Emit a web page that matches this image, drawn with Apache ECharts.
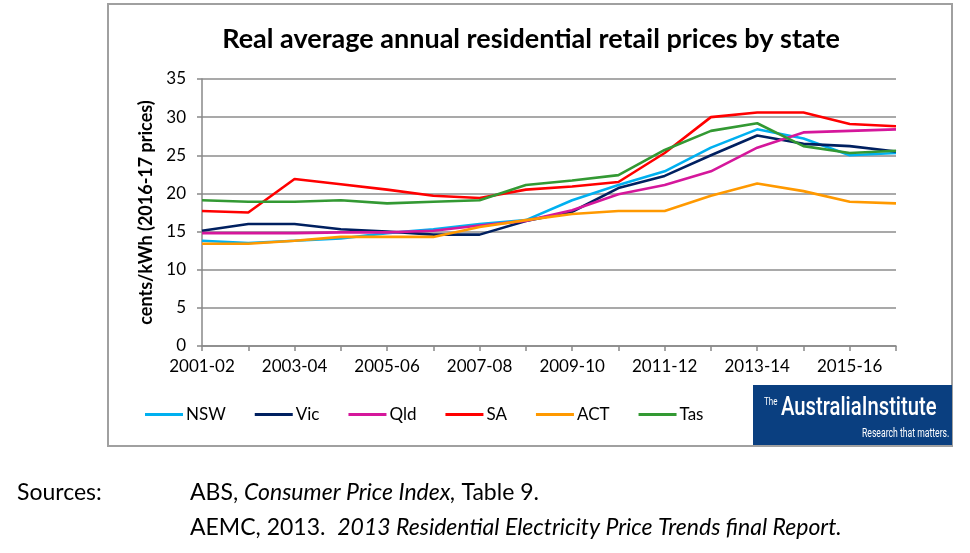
<!DOCTYPE html>
<html>
<head>
<meta charset="utf-8">
<script src="https://cdn.jsdelivr.net/npm/echarts@6/dist/echarts.min.js"></script>
<style>
html,body{margin:0;padding:0;background:#fff;}
#chart{width:970px;height:553px;}
</style>
</head>
<body>
<div id="chart"></div>
<script>
var categories = ['2001-02','2002-03','2003-04','2004-05','2005-06','2006-07','2007-08','2008-09','2009-10','2010-11','2011-12','2012-13','2013-14','2014-15','2015-16','2016-17'];
var nsw = [13.8, 13.5, 13.8, 14.1, 14.8, 15.3, 16.0, 16.5, 19.1, 21.1, 22.9, 26.0, 28.4, 27.2, 25.0, 25.3];
var vic = [15.1, 16.0, 16.0, 15.3, 15.0, 14.6, 14.6, 16.4, 17.6, 20.7, 22.3, 25.0, 27.6, 26.5, 26.2, 25.5];
var qld = [14.8, 14.8, 14.8, 14.9, 14.9, 15.1, 15.8, 16.4, 17.8, 19.9, 21.1, 22.9, 26.0, 28.0, 28.2, 28.4];
var sa  = [17.7, 17.5, 21.9, 21.2, 20.5, 19.7, 19.4, 20.5, 20.9, 21.5, 25.3, 30.0, 30.6, 30.6, 29.1, 28.8];
var act = [13.4, 13.4, 13.8, 14.3, 14.3, 14.3, 15.6, 16.5, 17.3, 17.7, 17.7, 19.7, 21.3, 20.3, 18.9, 18.7];
var tas = [19.1, 18.9, 18.9, 19.1, 18.7, 18.9, 19.1, 21.1, 21.7, 22.4, 25.7, 28.2, 29.2, 26.2, 25.3, 25.6];
var seriesNames = ['NSW','Vic','Qld','SA','ACT','Tas'];
var seriesData = [nsw, vic, qld, sa, act, tas];
var seriesColors = ['#00B0F0','#002060','#D5179B','#FF0000','#FF9900','#339933'];

var FONT = 'Lato';
var chart = echarts.init(document.getElementById('chart'), null, {renderer:'canvas'});
var series = seriesNames.map(function(n, i){
  return {
    name: n, type: 'line', data: seriesData[i], symbol: 'none',
    lineStyle: {width: 2.6, color: seriesColors[i]},
    itemStyle: {color: seriesColors[i]},
    animation: false
  };
});
chart.setOption({
  animation: false,
  backgroundColor: '#fff',
  title: {
    text: 'Real average annual residential retail prices by state',
    left: 526, top: 21, textAlign: 'center',
    textStyle: {fontFamily: FONT, fontWeight: 'bold', fontSize: 27, color: '#000'}
  },
  grid: {left: 202, right: 74, top: 79, bottom: 207, containLabel: false},
  legend: {
    left: 145, top: 406, padding: 0, itemWidth: 38, itemHeight: 3, itemGap: 29, icon: 'rect',
    textStyle: {fontFamily: FONT, fontSize: 17, color: '#000', padding: [0,0,0,-2]},
    data: seriesNames
  },
  xAxis: {
    type: 'category', data: categories, boundaryGap: false,
    axisLine: {lineStyle: {color: '#888', width: 1.5}},
    axisTick: {show: true, interval: 0, length: 5, lineStyle: {color: '#888', width: 1.5}},
    axisLabel: {interval: 1, margin: 12, fontFamily: FONT, fontSize: 17, color: '#000'},
    splitLine: {show: false}
  },
  yAxis: {
    type: 'value', min: 0, max: 35, interval: 5,
    name: 'cents/kWh (2016-17 prices)', nameLocation: 'middle', nameGap: 47, nameRotate: 90,
    nameTextStyle: {fontFamily: FONT, fontWeight: 'bold', fontSize: 18, color: '#000'},
    axisLine: {show: true, lineStyle: {color: '#888', width: 1.5}},
    axisTick: {show: true, length: 5, lineStyle: {color: '#888', width: 1.5}},
    axisLabel: {margin: 16, fontFamily: FONT, fontSize: 17, color: '#000'},
    splitLine: {lineStyle: {color: '#8c8c8c', width: 1.5}}
  },
  series: series,
  graphic: [
    {type: 'rect', z: -10, shape: {x: 108, y: 4, width: 844, height: 442}, style: {fill: '#fff', stroke: '#a0a0a0', lineWidth: 2}},
    {type: 'rect', z: 10, shape: {x: 753, y: 385, width: 199, height: 60}, style: {fill: '#0A3F80'}},
    {type: 'text', z: 11, x: 764, y: 397, scaleX: 0.8, style: {text: 'The', fill: '#fff', font: '10px Roboto'}},
    {type: 'text', z: 11, x: 781, y: 396, scaleX: 0.81, style: {text: 'AustraliaInstitute', fill: '#fff', font: '500 25px Roboto'}},
    {type: 'text', z: 11, x: 862, y: 428, scaleX: 0.72, style: {text: 'Research that matters.', fill: '#fff', font: '12px Roboto'}},
    {type: 'text', left: 17, top: 481, style: {text: 'Sources:', fill: '#000', font: '23px Lato'}},
    {type: 'text', left: 190, top: 481, style: {rich: {n: {font: '23px Lato', fill: '#000'}, i: {font: 'italic 23px Lato', fill: '#000'}}, text: '{n|ABS, }{i|Consumer Price Index,}{n| Table 9.}'}},
    {type: 'text', left: 190, top: 516, style: {rich: {n: {font: '23px Lato', fill: '#000'}, i: {font: 'italic 23px Lato', fill: '#000'}}, text: '{n|AEMC, 2013.  }{i|2013 Residential Electricity Price Trends final Report.}'}}
  ]
});
</script>
</body>
</html>
